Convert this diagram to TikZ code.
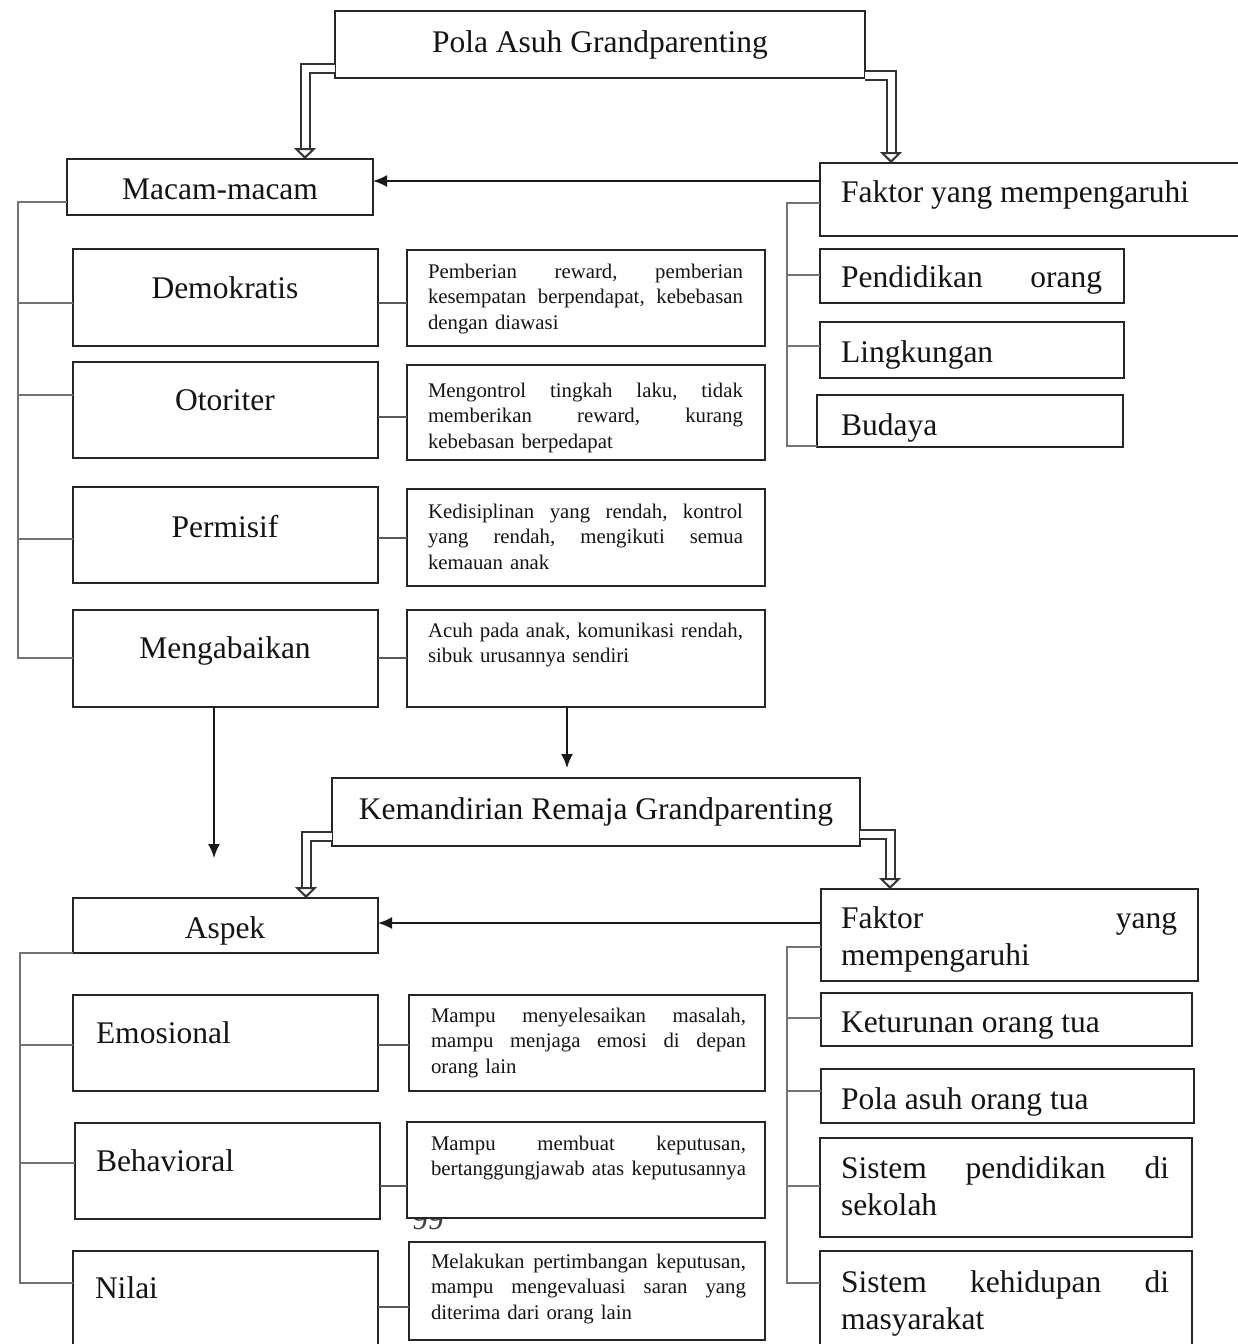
\documentclass[tikz,border=0pt]{standalone}
\usepackage{fontspec}
\setmainfont{Liberation Serif}
\usetikzlibrary{arrows.meta,calc}
\newcommand\bx[5]{\node[box, minimum width={(#4)-(#2)}, minimum height={(#5)-(#3)}] (#1) at (#2,#3) {};}
\begin{document}
\begin{tikzpicture}[x=1pt,y=-1pt,
 box/.style={draw=black!85, line width=2.3pt, fill=white, inner sep=0pt, outer sep=0pt, anchor=north west},
 big/.style={font=\fontsize{31.5}{37.5}\selectfont, text=black!92, inner sep=0pt, outer sep=0pt},
 bigw/.style={big, anchor=base west, align=left},
 small/.style={font=\fontsize{20.8}{25.5}\selectfont, text=black!92, inner sep=0pt, outer sep=0pt, text width=315pt, align=left, anchor=base west},
 bracket/.style={draw=black!55, line width=1.6pt},
 conn/.style={draw=black!65, line width=1.6pt},
 arr/.style={draw=black!90, line width=2pt, -{Latex[length=14pt,width=12pt]}},
 dbl/.style={draw=black!80, line width=2pt, double=white, double distance=7pt, -{Triangle[open, fill=white, length=11pt, width=22pt, line width=2pt]}},
]
\fill[white] (0,0) rectangle (1237,1344);
\useasboundingbox (0,0) rectangle (1237,1344);

% page number fragment (mostly hidden)
\node[font=\fontsize{31.5}{37}\selectfont, text=black!75, anchor=base west, inner sep=0pt] (pgnum) at (412,1229) {99};

% ---------- top part ----------
\bx{pola}{335}{11}{865}{78}
\node[big, anchor=base] (tpola) at (600,52) {Pola Asuh Grandparenting};

\bx{macam}{67}{159}{373}{215}
\node[big, anchor=base] (tmacam) at (220,199) {Macam-macam};

\bx{demo}{73}{249}{378}{346}
\node[big, anchor=base] (tdemo) at (225,298) {Demokratis};
\bx{otor}{73}{362}{378}{458}
\node[big, anchor=base] (totor) at (225,410) {Otoriter};
\bx{perm}{73}{487}{378}{583}
\node[big, anchor=base] (tperm) at (225,537) {Permisif};
\bx{meng}{73}{610}{378}{707}
\node[big, anchor=base] (tmeng) at (225,658) {Mengabaikan};

\bx{dDemo}{407}{250}{765}{346}
\node[small] (tdDemo) at (428,278) {Pemberian\hfill reward,\hfill pemberian\\kesempatan\hfill berpendapat,\hfill kebebasan\\dengan diawasi};
\bx{dOtor}{407}{365}{765}{460}
\node[small] (tdOtor) at (428,397) {Mengontrol\hfill tingkah\hfill laku,\hfill tidak\\memberikan\hfill reward,\hfill kurang\\kebebasan berpedapat};
\bx{dPerm}{407}{489}{765}{586}
\node[small] (tdPerm) at (428,518) {Kedisiplinan\hfill yang\hfill rendah,\hfill kontrol\\yang\hfill rendah,\hfill mengikuti\hfill semua\\kemauan anak};
\bx{dMeng}{407}{610}{765}{707}
\node[small] (tdMeng) at (428,637) {Acuh\hfill pada\hfill anak,\hfill komunikasi\hfill rendah,\\sibuk urusannya sendiri};

\bx{faktorA}{820}{163}{1260}{236}
\node[bigw] (tfaktorA) at (841,202) {Faktor yang mempengaruhi};
\bx{pend}{820}{249}{1124}{303}
\node[bigw, text width=261pt] (tpend) at (841,287) {Pendidikan\hfill orang};
\bx{ling}{820}{322}{1124}{378}
\node[bigw] (tling) at (841,362) {Lingkungan};
\bx{bud}{817}{395}{1123}{447}
\node[bigw] (tbud) at (841,435) {Budaya};

% ---------- lower part ----------
\bx{kem}{332}{778}{860}{846}
\node[big, anchor=base] (tkem) at (596,819) {Kemandirian Remaja Grandparenting};

\bx{aspek}{73}{898}{378}{953}
\node[big, anchor=base] (taspek) at (225,938) {Aspek};
\bx{emo}{73}{995}{378}{1091}
\node[bigw] (temo) at (96,1043) {Emosional};
\bx{beh}{75}{1123}{380}{1219}
\node[bigw] (tbeh) at (96,1171) {Behavioral};
\bx{nil}{73}{1251}{378}{1370}
\node[bigw] (tnil) at (95,1298) {Nilai};

\bx{dEmo}{409}{995}{765}{1091}
\node[small] (tdEmo) at (431,1022) {Mampu\hfill menyelesaikan\hfill masalah,\\mampu\hfill menjaga\hfill emosi\hfill di\hfill depan\\orang lain};
\bx{dBeh}{407}{1122}{765}{1218}
\node[small] (tdBeh) at (431,1150) {Mampu\hfill membuat\hfill keputusan,\\bertanggungjawab\hfill atas\hfill keputusannya};
\bx{dNil}{409}{1242}{765}{1340}
\node[small] (tdNil) at (431,1268) {Melakukan\hfill pertimbangan\hfill keputusan,\\mampu\hfill mengevaluasi\hfill saran\hfill yang\\diterima dari orang lain};

\bx{faktorB}{821}{889}{1198}{981}
\node[bigw, text width=336pt] (tfaktorB) at (841,928) {Faktor\hfill yang\\mempengaruhi};
\bx{ketur}{821}{993}{1192}{1046}
\node[bigw] (tketur) at (841,1032) {Keturunan orang tua};
\bx{polaasuh}{821}{1069}{1194}{1123}
\node[bigw] (tpolaasuh) at (841,1109) {Pola asuh orang tua};
\bx{sispend}{820}{1138}{1192}{1237}
\node[bigw, text width=328pt] (tsispend) at (841,1178) {Sistem\hfill pendidikan\hfill di\\sekolah};
\bx{siskeh}{820}{1251}{1192}{1370}
\node[bigw, text width=328pt] (tsiskeh) at (841,1292) {Sistem\hfill kehidupan\hfill di\\masyarakat};

% ---------- connectors: box to description ----------
\draw[conn] ($(demo.north east)+(0,54)$) -- ($(dDemo.north west)+(0,53)$);
\draw[conn] ($(otor.north east)+(0,55)$) -- ($(dOtor.north west)+(0,52)$);
\draw[conn] ($(perm.north east)+(0,51)$) -- ($(dPerm.north west)+(0,49)$);
\draw[conn] ($(meng.north east)+(0,48)$) -- ($(dMeng.north west)+(0,48)$);
\draw[conn] ($(emo.north east)+(0,50)$) -- ($(dEmo.north west)+(0,50)$);
\draw[conn] ($(beh.north east)+(0,63)$) -- ($(dBeh.north west)+(0,64)$);
\draw[conn] ($(nil.north east)+(0,56)$) -- ($(dNil.north west)+(0,65)$);

% ---------- brackets ----------
\coordinate (spL1) at (18,400);
\draw[bracket] ($(macam.north west)+(0,43)$) -| (spL1) |- ($(meng.north west)+(0,48)$);
\draw[bracket] ($(demo.north west)+(0,54)$) -- (spL1 |- {$(demo.north west)+(0,54)$});
\draw[bracket] ($(otor.north west)+(0,33)$) -- (spL1 |- {$(otor.north west)+(0,33)$});
\draw[bracket] ($(perm.north west)+(0,52)$) -- (spL1 |- {$(perm.north west)+(0,52)$});

\coordinate (spR1) at (787,300);
\draw[bracket] ($(faktorA.north west)+(0,40)$) -| (spR1) |- ($(bud.north west)+(0,51)$);
\draw[bracket] ($(pend.north west)+(0,26)$) -- (spR1 |- {$(pend.north west)+(0,26)$});
\draw[bracket] ($(ling.north west)+(0,24)$) -- (spR1 |- {$(ling.north west)+(0,24)$});

\coordinate (spL2) at (20,1100);
\draw[bracket] (aspek.south west) -| (spL2) |- ($(nil.north west)+(0,32)$);
\draw[bracket] ($(emo.north west)+(0,50)$) -- (spL2 |- {$(emo.north west)+(0,50)$});
\draw[bracket] ($(beh.north west)+(0,40)$) -- (spL2 |- {$(beh.north west)+(0,40)$});

\coordinate (spR2) at (787,1100);
\draw[bracket] ($(faktorB.north west)+(0,58)$) -| (spR2) |- ($(siskeh.north west)+(0,32)$);
\draw[bracket] ($(ketur.north west)+(0,25)$) -- (spR2 |- {$(ketur.north west)+(0,25)$});
\draw[bracket] ($(polaasuh.north west)+(0,22)$) -- (spR2 |- {$(polaasuh.north west)+(0,22)$});
\draw[bracket] ($(sispend.north west)+(0,48)$) -- (spR2 |- {$(sispend.north west)+(0,48)$});

% ---------- filled arrows ----------
\draw[arr] ($(faktorA.north west)+(0,18)$) -- ($(macam.north east)+(0,22)$);
\draw[arr] ($(faktorB.north west)+(0,34)$) -- ($(aspek.north east)+(0,25)$);
\coordinate (aspekAbove) at (214,858);
\draw[arr] ($(meng.south west)+(141,0)$) -- (aspekAbove);
\draw[arr] ($(dMeng.south west)+(160,0)$) -- ($(kem.north west)+(235,-10)$);

% ---------- double (hollow) arrows ----------
\draw[dbl] ($(pola.north west)+(0,57)$) -| ($(macam.north west)+(238,0)$);
\draw[dbl] ($(pola.north east)+(0,64)$) -| ($(faktorA.north west)+(71,0)$);
\draw[dbl] ($(kem.north west)+(0,58)$) -| ($(aspek.north west)+(233,0)$);
\draw[dbl] ($(kem.north east)+(0,56)$) -| ($(faktorB.north west)+(69,0)$);
\end{tikzpicture}
\end{document}
